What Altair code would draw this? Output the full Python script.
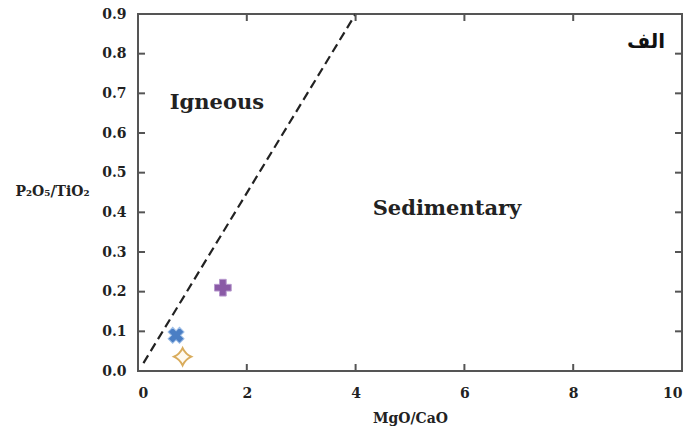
import altair as alt
import pandas as pd

# ---- data ----
sample_x = [0.70, 0.82, 1.56]          # MgO/CaO
sample_y = [0.09, 0.036, 0.21]         # P2O5/TiO2
sample_id = ["blue", "tan", "purple"]

boundary_x = [0.1, 4.0]
boundary_y = [0.02, 0.9]

x_ticks = [0, 2, 4, 6, 8, 10]
y_ticks = [0.0, 0.1, 0.2, 0.3, 0.4, 0.5, 0.6, 0.7, 0.8, 0.9]
x_inner_ticks = [2, 4, 6, 8]
y_inner_ticks = [0.1, 0.2, 0.3, 0.4, 0.5, 0.6, 0.7, 0.8]

labels_text = ["Igneous", "Sedimentary"]
labels_x = [1.45, 5.68]
labels_y = [0.675, 0.408]

W, H = 544, 357
FONT = "DejaVu Serif"

pts = pd.DataFrame({"x": sample_x, "y": sample_y, "id": sample_id})
line_df = pd.DataFrame({"x": boundary_x, "y": boundary_y})
lab_df = pd.DataFrame({"t": labels_text, "x": labels_x, "y": labels_y})
xt_df = pd.DataFrame({"x": x_inner_ticks})
yt_df = pd.DataFrame({"y": y_inner_ticks})

xs = alt.Scale(domain=[0, 10], nice=False, zero=False)
ys = alt.Scale(domain=[0, 0.9], nice=False, zero=False)

xaxis = alt.Axis(values=x_ticks, format="d", title="MgO/CaO", grid=False, domain=False,
                 ticks=False, labelPadding=15, labelFont=FONT, labelFontWeight="bold",
                 labelFontSize=14, labelColor="#222", titleFont=FONT, titleFontWeight="bold",
                 titleFontSize=14, titleColor="#222", titlePadding=11)
yaxis = alt.Axis(values=y_ticks, format=".1f", title="P₂O₅/TiO₂", grid=False, domain=False,
                 ticks=False, labelPadding=12, labelFont=FONT, labelFontWeight="bold",
                 labelFontSize=14, labelColor="#222", titleFont=FONT, titleFontWeight="bold",
                 titleFontSize=14, titleColor="#222", titleAngle=0, titleAlign="center",
                 titleBaseline="middle", titleX=-86, titleY=177)

X = alt.X("x:Q", scale=xs, axis=xaxis)
Y = alt.Y("y:Q", scale=ys, axis=yaxis)

line = alt.Chart(line_df).mark_line(color="#222", strokeWidth=2.2, strokeDash=[9, 5]).encode(
    x=X, y=Y)

def pt(idx, **kw):
    return alt.Chart(pts[pts["id"] == idx]).mark_point(**kw).encode(x=X, y=Y)

star = "M0,-1 Q0.32,-0.32 1,0 Q0.32,0.32 0,1 Q-0.32,0.32 -1,0 Q-0.32,-0.32 0,-1 Z"
p_blue = pt("blue", shape="cross", angle=45, size=260, filled=True, color="#4a7ec4",
            stroke="#9dbde6", strokeWidth=1, opacity=1)
p_tan = pt("tan", shape=star, size=300, filled=False, color="#d9ac5c", strokeWidth=2,
           fill="#fffaf0", fillOpacity=1, opacity=1)
p_purple = pt("purple", shape="cross", size=280, filled=True, color="#8a5aa6",
              stroke="#b89ace", strokeWidth=1, opacity=1)

labels = alt.Chart(lab_df).mark_text(font=FONT, fontWeight="bold", fontSize=21,
                                     color="#222").encode(x=X, y=Y, text="t:N")

arabic = alt.Chart(pd.DataFrame({"t": ["الف"], "x": [9.69], "y": [0.829]})).mark_text(
    font="DejaVu Sans", fontWeight="bold", fontSize=20, align="right", color="#111").encode(
    x=X, y=Y, text="t:N")

tick_style = dict(color="#555", strokeWidth=2)
tb = alt.Chart(xt_df).mark_rule(**tick_style).encode(
    x=X, y=alt.value(H), y2=alt.value(H - 7))
tt = alt.Chart(xt_df).mark_rule(**tick_style).encode(
    x=X, y=alt.value(0), y2=alt.value(7))
tl = alt.Chart(yt_df).mark_rule(**tick_style).encode(
    y=Y, x=alt.value(0), x2=alt.value(7))
tr = alt.Chart(yt_df).mark_rule(**tick_style).encode(
    y=Y, x=alt.value(W), x2=alt.value(W - 7))

chart = alt.layer(line, tb, tt, tl, tr, labels, arabic, p_tan, p_blue, p_purple).properties(
    width=W, height=H,
    autosize=alt.AutoSizeParams(type="none"),
    padding={"left": 138, "top": 14, "right": 16, "bottom": 58},
    background="white",
).configure_view(stroke="#555", strokeWidth=2)

chart.save("out.html", embed_options={"renderer": "svg", "actions": False})
